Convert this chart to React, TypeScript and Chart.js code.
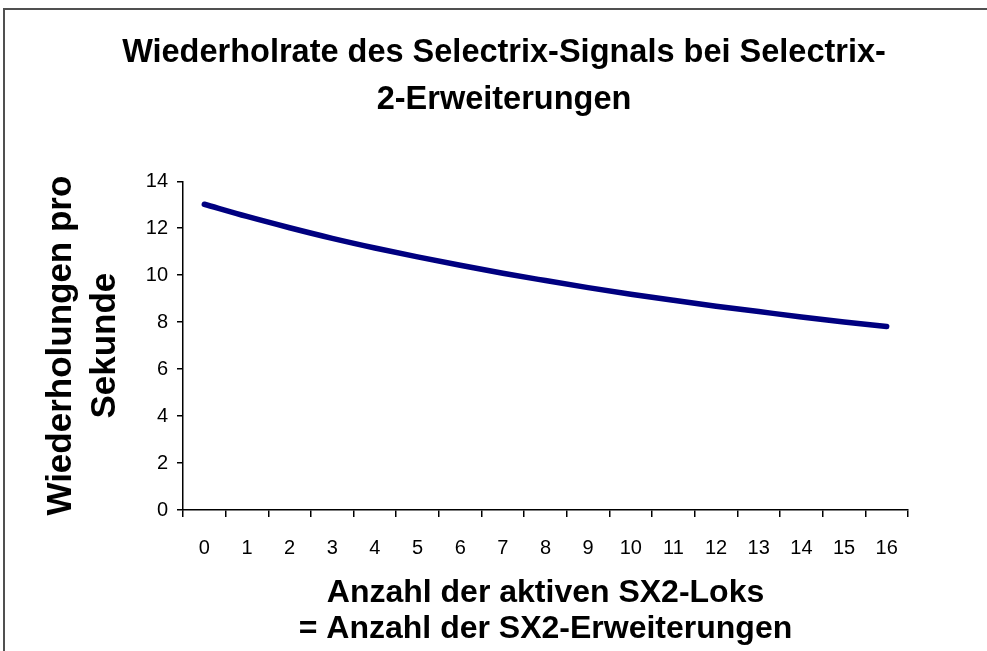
import React, { useEffect, useRef } from 'react';
import { Chart, registerables } from 'chart.js';

Chart.register(...registerables);

const categories = ['0', '1', '2', '3', '4', '5', '6', '7', '8', '9', '10', '11', '12', '13', '14', '15', '16'];
const repetitionsPerSecond = [13.02, 12.5, 12.02, 11.57, 11.16, 10.78, 10.42, 10.08, 9.77, 9.47, 9.19, 8.93, 8.68, 8.45, 8.22, 8.01, 7.81];
const titleLines = ['Wiederholrate des Selectrix-Signals bei Selectrix-', '2-Erweiterungen'];
const yTitleLines = ['Wiederholungen pro', 'Sekunde'];
const xTitleLines = ['Anzahl der aktiven SX2-Loks', '= Anzahl der SX2-Erweiterungen'];
const yMin = 0;
const yMax = 14;
const yStep = 2;

const FONT = "'Liberation Sans', Arial, sans-serif";

export default function App() {
  const canvasRef = useRef<HTMLCanvasElement | null>(null);

  useEffect(() => {
    const canvas = canvasRef.current;
    if (!canvas) return;
    const chart = new Chart(canvas, {
      type: 'line',
      data: {
        labels: categories,
        datasets: [
          {
            data: repetitionsPerSecond,
            borderColor: '#000080',
            backgroundColor: '#000080',
            borderWidth: 5.5,
            borderCapStyle: 'round',
            borderJoinStyle: 'round',
            pointRadius: 0,
            tension: 0.4,
            cubicInterpolationMode: 'monotone',
            fill: false,
            clip: false,
          } as any,
        ],
      },
      options: {
        responsive: false,
        animation: false,
        maintainAspectRatio: false,
        layout: { padding: { left: 100, right: 79, top: 0, bottom: 0 } },
        plugins: {
          legend: { display: false },
          tooltip: { enabled: false },
          title: {
            display: true,
            text: titleLines,
            color: '#000',
            font: { family: FONT, size: 32.5, weight: 'bold', lineHeight: 1.45 },
            padding: { top: 29, bottom: 58 },
          },
        },
        scales: {
          x: {
            type: 'category',
            offset: true,
            afterFit: (s: any) => {
              s.height = 141;
            },
            grid: {
              offset: true,
              drawOnChartArea: false,
              drawTicks: true,
              tickLength: 7,
              color: '#000',
              lineWidth: 1.5,
            },
            border: { display: true, color: '#000', width: 1.5 },
            ticks: {
              color: '#000',
              font: { family: FONT, size: 20 },
              padding: 19,
              maxRotation: 0,
              autoSkip: false,
            },
            title: {
              display: true,
              text: xTitleLines,
              color: '#000',
              font: { family: FONT, size: 32, weight: 'bold', lineHeight: 1.125 },
              padding: { top: 0, bottom: 4 },
            },
          },
          y: {
            min: yMin,
            max: yMax,
            afterFit: (s: any) => {
              s.width = 83;
            },
            grid: {
              drawOnChartArea: false,
              drawTicks: true,
              tickLength: 6,
              color: '#000',
              lineWidth: 1.5,
            },
            border: { display: true, color: '#000', width: 1.5 },
            ticks: {
              stepSize: yStep,
              color: '#000',
              font: { family: FONT, size: 20 },
              padding: 9,
            },
            title: {
              display: true,
              text: yTitleLines,
              color: '#000',
              font: { family: FONT, size: 35, weight: 'bold', lineHeight: 1.27 },
              padding: { top: -61, bottom: 0 },
            },
          },
        },
      },
    });
    return () => chart.destroy();
  }, []);

  return (
    <div style={{ position: 'absolute', left: 0, top: 0, width: 987, height: 651, overflow: 'hidden', background: '#fff' }}>
      <canvas ref={canvasRef} width={987} height={651} style={{ position: 'absolute', left: 0, top: 0 }} />
      <div
        style={{
          position: 'absolute',
          left: 3,
          top: 8,
          width: 1000,
          height: 700,
          borderLeft: '2px solid #505050',
          borderTop: '2px solid #505050',
          pointerEvents: 'none',
        }}
      />
    </div>
  );
}
